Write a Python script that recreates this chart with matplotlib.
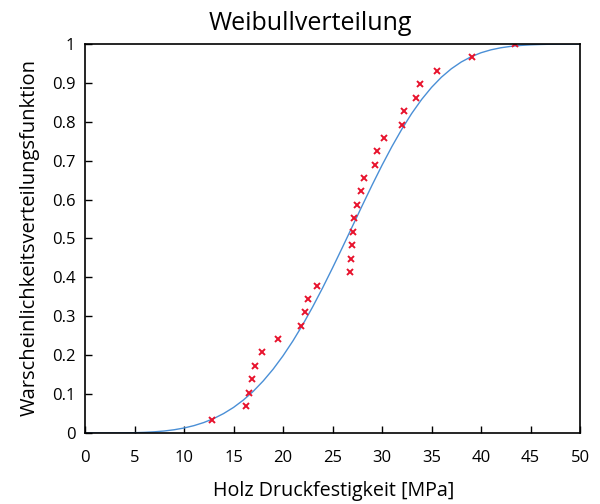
import matplotlib
matplotlib.use("Agg")
import matplotlib.pyplot as plt

# measured strengths (sorted) and their empirical CDF levels i/29
strength = [12.8, 16.3, 16.6, 16.9, 17.2, 17.9, 19.5, 21.8, 22.2, 22.5,
            23.4, 26.8, 26.9, 27.0, 27.1, 27.2, 27.5, 27.85, 28.2, 29.25,
            29.45, 30.2, 32.0, 32.2, 33.4, 33.8, 35.6, 39.1, 43.4]
ecdf = [0.034, 0.069, 0.103, 0.138, 0.172, 0.207, 0.241, 0.276, 0.310,
        0.345, 0.379, 0.414, 0.448, 0.483, 0.517, 0.552, 0.586, 0.621,
        0.655, 0.690, 0.724, 0.759, 0.793, 0.828, 0.862, 0.897, 0.931,
        0.966, 1.0]

# fitted Weibull CDF, every 1 MPa
curve_x = list(range(0, 51))
curve_y = [0.0, 0.0, 0.0, 0.0001, 0.0003, 0.0008, 0.0016, 0.0030, 0.0051,
           0.0083, 0.0128, 0.0189, 0.0269, 0.0371, 0.050, 0.0657, 0.0848,
           0.1073, 0.1338, 0.1640, 0.1984, 0.2367, 0.2788, 0.3245, 0.3731,
           0.4243, 0.4771, 0.5308, 0.5846, 0.6374, 0.6883, 0.7364, 0.7810,
           0.8215, 0.8574, 0.8884, 0.9147, 0.9363, 0.9537, 0.9672, 0.9775,
           0.9850, 0.9903, 0.9939, 0.9963, 0.9979, 0.9988, 0.9994, 0.9997,
           0.9998, 0.9999]

xticks = [0, 5, 10, 15, 20, 25, 30, 35, 40, 45, 50]
yticks = [0, 0.1, 0.2, 0.3, 0.4, 0.5, 0.6, 0.7, 0.8, 0.9, 1]
ytick_labels = ["0", "0.1", "0.2", "0.3", "0.4", "0.5", "0.6", "0.7",
                "0.8", "0.9", "1"]

plt.rcParams["font.family"] = ["Open Sans", "DejaVu Sans"]

fig = plt.figure(figsize=(6, 5.04), dpi=100)
ax = fig.add_axes([0.1417, 0.1409, 0.825, 0.7718])

ax.plot(curve_x, curve_y, color="#4a8fd6", lw=1.0)
ax.plot(strength, ecdf, ls="none", marker="x", ms=4.5, mew=1.4,
        color="#e8132d")

ax.set_xlim(0, 50)
ax.set_ylim(0, 1)
ax.set_xticks(xticks)
ax.set_yticks(yticks)
ax.set_yticklabels(ytick_labels)
ax.tick_params(direction="in", length=5, width=1, labelsize=12,
               colors="black")
ax.tick_params(axis="x", pad=12)
ax.tick_params(axis="y", pad=7)
for s in ax.spines.values():
    s.set_linewidth(1.2)

fig.text(310 / 600, 1 - 24 / 504, "Weibullverteilung", fontsize=18,
         ha="center", va="center")
fig.text(334 / 600, 1 - 491 / 504, "Holz Druckfestigkeit [MPa]",
         fontsize=14.2, ha="center", va="center")
fig.text(30 / 600, 1 - 238 / 504, "Warscheinlichkeitsverteilungsfunktion",
         fontsize=14.5, ha="center", va="center", rotation=90)

fig.savefig("out.png", dpi=100)
